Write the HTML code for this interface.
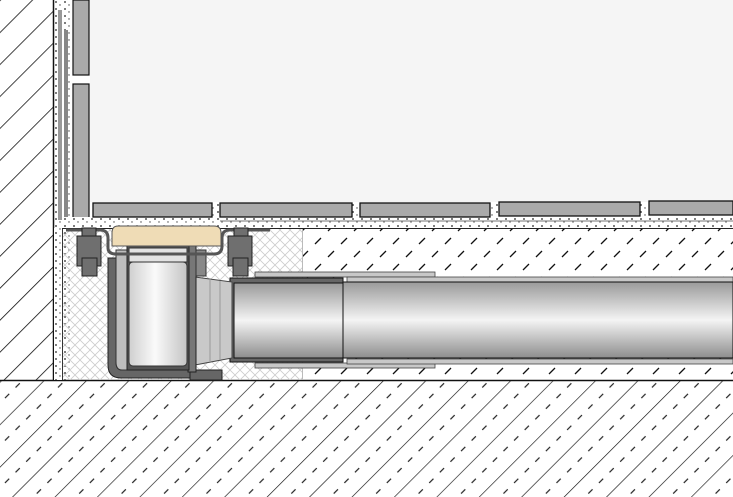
<!DOCTYPE html>
<html><head><meta charset="utf-8"><style>
html,body{margin:0;padding:0;background:#fff;width:733px;height:497px;overflow:hidden}
svg{display:block}
</style></head><body>
<svg width="733" height="497" viewBox="0 0 733 497" xmlns="http://www.w3.org/2000/svg">
<defs>
<pattern id="wallh" width="22.6" height="22.6" patternUnits="userSpaceOnUse" patternTransform="rotate(45)">
<line x1="0" y1="0" x2="0" y2="22.6" stroke="#111" stroke-width="1.6"/></pattern>
<pattern id="floorh" width="30" height="30" patternUnits="userSpaceOnUse" patternTransform="rotate(45)">
<line x1="0" y1="0" x2="0" y2="30" stroke="#111" stroke-width="1.3"/>
<path d="M15 2 L15 8 M15 17 L15 23" stroke="#222" stroke-width="1.2"/></pattern>
<pattern id="screed" width="26" height="26" patternUnits="userSpaceOnUse">
<path d="M3 10 L9 4 M16 23 L22 17" stroke="#111" stroke-width="1.3"/></pattern>
<pattern id="ins" width="10" height="10" patternUnits="userSpaceOnUse">
<path d="M0 0 L10 10 M10 0 L0 10" stroke="#ccc" stroke-width="0.8"/></pattern>
<pattern id="dots" width="9" height="7" patternUnits="userSpaceOnUse">
<circle cx="2" cy="2" r="0.9" fill="#222"/><circle cx="6" cy="5" r="0.7" fill="#444"/></pattern>
<linearGradient id="pipe" x1="0" y1="0" x2="0" y2="1">
<stop offset="0" stop-color="#9a9a9a"/><stop offset="0.5" stop-color="#f4f4f4"/><stop offset="1" stop-color="#8d8d8d"/></linearGradient>
<linearGradient id="cyl" x1="0" y1="0" x2="1" y2="0">
<stop offset="0" stop-color="#cfcfcf"/><stop offset="0.45" stop-color="#fafafa"/><stop offset="1" stop-color="#c4c4c4"/></linearGradient>
</defs>
<rect width="733" height="497" fill="#fff"/>
<rect x="90" y="0" width="643" height="202" fill="#f5f5f5"/>
<rect x="0" y="0" width="53" height="380" fill="url(#wallh)"/>
<line x1="53.5" y1="0" x2="53.5" y2="380" stroke="#111" stroke-width="1.5"/>
<rect x="54" y="0" width="19" height="380" fill="url(#dots)"/>
<rect x="58" y="10" width="4" height="210" fill="#999"/>
<rect x="64" y="30" width="4" height="190" fill="#888"/>
<rect x="73" y="0" width="16" height="75" fill="#aaa" stroke="#111" stroke-width="1.2"/>
<rect x="73" y="84" width="16" height="134" fill="#aaa" stroke="#111" stroke-width="1.2"/>
<rect x="0" y="381" width="733" height="116" fill="url(#floorh)"/>
<line x1="0" y1="380.5" x2="733" y2="380.5" stroke="#111" stroke-width="1.5"/>
<rect x="302" y="228" width="431" height="152" fill="url(#screed)"/>
<line x1="302.5" y1="228" x2="302.5" y2="380" stroke="#bbb"/>
<rect x="62" y="228" width="240" height="152" fill="url(#ins)"/>
<rect x="54" y="228" width="9" height="152" fill="#fff"/>
<rect x="54" y="228" width="9" height="152" fill="url(#dots)"/>
<line x1="62.5" y1="228" x2="62.5" y2="380" stroke="#333"/>
<rect x="62" y="217" width="671" height="11" fill="#fff"/>
<rect x="62" y="217" width="671" height="11" fill="url(#dots)"/>
<line x1="62" y1="228.5" x2="733" y2="228.5" stroke="#222"/>
<line x1="220" y1="221" x2="733" y2="221" stroke="#777"/>
<g fill="#aaa" stroke="#111" stroke-width="1.3">
<rect x="93" y="203" width="119" height="14"/>
<rect x="220" y="203" width="132" height="14"/>
<rect x="360" y="203" width="130" height="14"/>
<rect x="499" y="202" width="141" height="14"/>
<rect x="649" y="201" width="84" height="14"/>
</g>
<g fill="url(#dots)"><rect x="212" y="203" width="8" height="14"/><rect x="352" y="203" width="8" height="14"/><rect x="490" y="203" width="9" height="14"/><rect x="640" y="202" width="9" height="14"/></g>
<rect x="255" y="272" width="180" height="5" fill="#c8c8c8" stroke="#444" stroke-width="0.8"/>
<rect x="255" y="363" width="180" height="5" fill="#c8c8c8" stroke="#444" stroke-width="0.8"/>
<rect x="347" y="277" width="386" height="5" fill="#c8c8c8" stroke="#444" stroke-width="0.8"/>
<rect x="347" y="359" width="386" height="5" fill="#c8c8c8" stroke="#444" stroke-width="0.8"/>
<rect x="230" y="278" width="113" height="84" fill="#666" stroke="#111"/>
<rect x="234" y="283" width="109" height="75" fill="url(#pipe)" stroke="#111"/>
<rect x="343" y="282" width="390" height="76" fill="url(#pipe)" stroke="#111"/>
<path d="M195 277 L232 282 L232 358 L195 365 Z" fill="#c9c9c9" stroke="#444"/>
<line x1="210" y1="279" x2="210" y2="362" stroke="#999"/>
<line x1="220" y1="281" x2="220" y2="360" stroke="#999"/>
<path d="M108 258 L108 365 Q108 378 121 378 L196 378 L196 370 L122 370 Q116 370 116 362 L116 258 Z" fill="#666" stroke="#222"/>
<path d="M116 258 L116 362 Q116 370 122 370 L196 370 L196 250 L116 250 Z" fill="#bdbdbd" stroke="#333"/>
<rect x="190" y="370" width="32" height="10" fill="#666" stroke="#222"/>
<rect x="188" y="240" width="8" height="132" fill="#777" stroke="#222"/>
<rect x="196" y="250" width="10" height="26" fill="#888" stroke="#333"/>
<rect x="127" y="245" width="62" height="125" fill="#555" stroke="#222"/>
<rect x="129" y="262" width="58" height="104" rx="4" fill="url(#cyl)" stroke="#333"/>
<rect x="129" y="248" width="58" height="14" fill="#e2e2e2" stroke="#333"/>
<rect x="142" y="237" width="34" height="9" fill="#666" stroke="#222"/>
<path d="M112 233 Q112 226 118 226 L214 226 Q221 226 221 233 L221 246 L112 246 Z" fill="#efdcb6" stroke="#555"/>
<path d="M66 230 L100 230 Q108 230 108 238 L108 248 Q108 254 116 254 L214 254 Q222 254 222 246 L222 238 Q222 230 230 230 L270 230" fill="none" stroke="#555" stroke-width="3"/>
<g fill="#6f6f6f" stroke="#222">
<rect x="77" y="236" width="24" height="30"/><rect x="82" y="258" width="15" height="18"/><rect x="82" y="228" width="14" height="8"/>
<rect x="228" y="236" width="24" height="30"/><rect x="233" y="258" width="15" height="18"/><rect x="234" y="228" width="14" height="8"/>
</g>
</svg>
</body></html>
